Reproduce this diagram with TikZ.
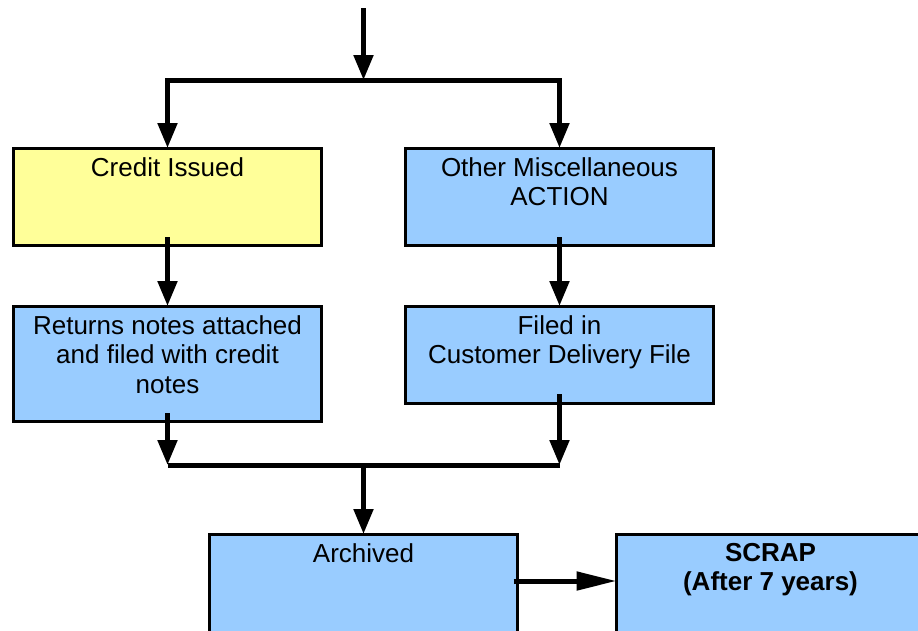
\documentclass[tikz,border=0pt]{standalone}
\usepackage{fontspec}
\setmainfont{Liberation Sans}
\usetikzlibrary{arrows.meta}

\definecolor{noteyellow}{HTML}{FFFF99}
\definecolor{noteblue}{HTML}{99CCFF}

\tikzset{
    stepbox/.style={draw, line width=3pt, minimum width=308pt, anchor=north west,
        inner sep=0pt, outer sep=0pt},
    boxtext/.style={anchor=north, inner sep=0pt, align=center, yshift=-9pt,
        font=\fontsize{26}{29.5}\selectfont},
    flow/.style={line width=5pt},
    flowarr/.style={flow, -{Triangle[length=25pt,width=19pt]}},
    longarr/.style={flow, -{Triangle[length=40pt,width=18pt]}}
}

\begin{document}
\begin{tikzpicture}[x=1pt, y=-1pt]

        \clip (0,0) rectangle (918,630);

        % Credit Issued
        \node (cred) [stepbox, fill=noteyellow, minimum height=97pt] at (13.5,148) {};
        \node [boxtext] at (cred.north) {Credit Issued};

        % Other Miscellaneous ACTION
        \node (other) [stepbox, fill=noteblue, minimum height=97pt] at (405.5,148) {};
        \node [boxtext] at (other.north) {Other Miscellaneous\\ACTION};

        % Returns notes
        \node (ret) [stepbox, fill=noteblue, minimum height=115pt] at (13.5,306) {};
        \node [boxtext] at (ret.north) {Returns notes attached\\and filed with credit\\notes};

        % Filed in
        \node (filed) [stepbox, fill=noteblue, minimum height=97pt] at (405.5,306) {};
        \node [boxtext] at (filed.north) {Filed in\\Customer Delivery File};

        % Archived
        \node (arch) [stepbox, fill=noteblue, minimum height=120pt] at (209.5,534) {};
        \node [boxtext] at (arch.north) {Archived};

        % SCRAP
        \node (scrap) [stepbox, fill=noteblue, minimum height=120pt] at (616.5,534) {};
        \node [boxtext] at (scrap.north) {\textbf{SCRAP}\\\textbf{(After 7 years)}};

        % in >- split
        \coordinate (in) at (363.5,8);
        \coordinate (split) at (363.5,80);
        \draw [flowarr] (in) -- (split);
        \draw [flowarr] (split) -| (cred.north);
        \draw [flowarr] (split) -| (other.north);

        % Credit >- Returns, Other >- Filed
        \draw [flowarr] ([yshift=8pt]cred.south) -- (ret.north);
        \draw [flowarr] ([yshift=8pt]other.south) -- (filed.north);

        % Returns, Filed >- merge >- Archived
        \coordinate (merge) at (363.5,465);
        \draw [flowarr] ([yshift=8pt]ret.south) -- (ret.south |- merge);
        \draw [flowarr] ([yshift=9pt]filed.south) -- (filed.south |- merge);
        \draw [flow] (ret.south |- merge) -- (filed.south |- merge);
        \draw [flowarr] (merge) -- (merge |- arch.north);

        % Archived >- SCRAP
        \draw [longarr] ([shift={(-4pt,13pt)}]arch.east) -- ([yshift=13pt]scrap.west);

    \end{tikzpicture}
\end{document}
